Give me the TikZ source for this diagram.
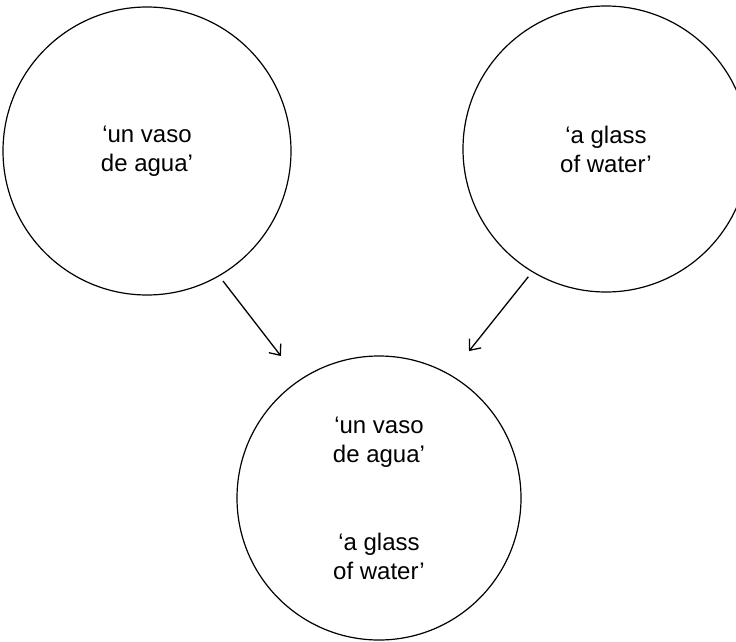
\documentclass[tikz,border=0pt]{standalone}
\usepackage{fontspec}
\setmainfont{Liberation Sans}
\usetikzlibrary{arrows.meta}

\begin{document}
\begin{tikzpicture}[x=1pt,y=-1pt,font=\fontsize{24}{29}\selectfont,
  bubble/.style={circle,draw=black,line width=1.2pt,inner sep=0pt,align=center},
  feed/.style={-{Straight Barb[length=9pt,width=15pt]},line width=1.3pt,shorten <=6pt,shorten >=30pt}]
\useasboundingbox (0,0) rectangle (736,642);
\node[bubble,minimum size=288pt] (vaso) at (147,151) {`un vaso\\de agua'};
\node[bubble,minimum size=286pt] (glass) at (606,149) {`a glass\\of water'};
\node[bubble,minimum size=284pt] (both) at (379,498) {`un vaso\\de agua'\\[59pt]`a glass\\of water'};
\draw[feed] (vaso.-60) -- (both.124);
\draw[feed] (glass.-121) -- (both.60);
\end{tikzpicture}
\end{document}
